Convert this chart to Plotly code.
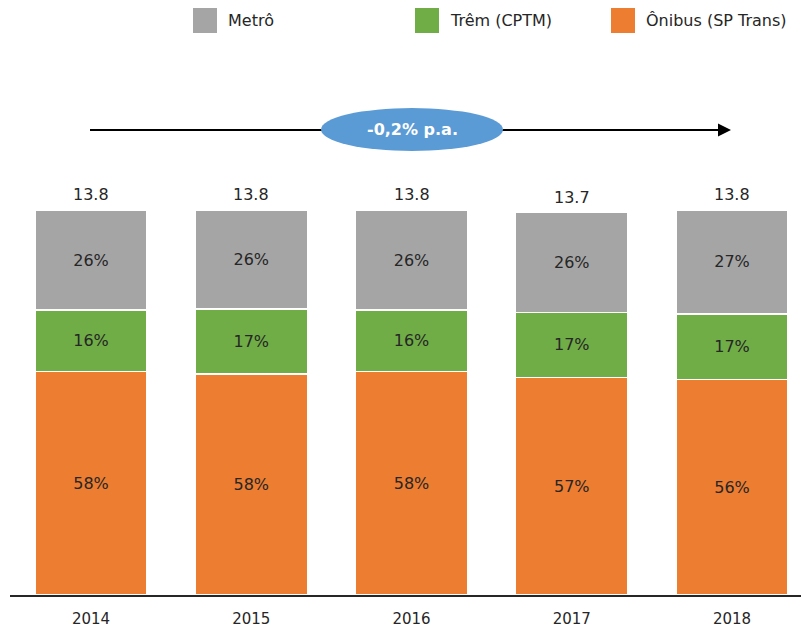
import plotly.graph_objects as go

years = ["2014", "2015", "2016", "2017", "2018"]
totals = [13.8, 13.8, 13.8, 13.7, 13.8]
onibus_pct = [58, 58, 58, 57, 56]
trem_pct = [16, 17, 16, 17, 17]
metro_pct = [26, 26, 26, 26, 27]
series_names = ["Metrô", "Trêm (CPTM)", "Ônibus (SP Trans)"]
growth_label = "-0,2% p.a."

colors = {"Metrô": "#A5A5A5", "Trêm (CPTM)": "#70AD47", "Ônibus (SP Trans)": "#ED7D31"}
FONT = "DejaVu Sans"
TXT = "#262626"

W, H = 801, 632
ML, MB = 10, 37
PW, PH = W - ML, H - MB


def px(x):
    return (x - ML) / PW


def py(y):
    return 1 - y / PH


sums = [a + b + c for a, b, c in zip(onibus_pct, trem_pct, metro_pct)]
stack = [
    ("Ônibus (SP Trans)", onibus_pct),
    ("Trêm (CPTM)", trem_pct),
    ("Metrô", metro_pct),
]

fig = go.Figure()
for name, pct in stack:
    vals = [t * p / s for t, p, s in zip(totals, pct, sums)]
    fig.add_trace(go.Bar(
        x=years, y=vals, name=name,
        marker=dict(color=colors[name], line=dict(color="white", width=1.2)),
        text=[f"{p}%" for p in pct], textposition="inside",
        insidetextanchor="middle", textangle=0,
        textfont=dict(family=FONT, size=16, color=TXT),
        width=0.7, showlegend=False, hoverinfo="skip",
    ))

annotations = []
for i, t in enumerate(totals):
    annotations.append(dict(x=i, y=t, xref="x", yref="y", text=f"{t:.1f}",
                            showarrow=False, xanchor="center", yanchor="bottom", yshift=4,
                            font=dict(family=FONT, size=16, color=TXT)))

shapes = []
# arrow line
shapes.append(dict(type="line", xref="paper", yref="paper",
                   x0=px(90), x1=px(722), y0=py(130), y1=py(130),
                   line=dict(color="black", width=2)))
# ellipse
shapes.append(dict(type="circle", xref="paper", yref="paper",
                   x0=px(321), x1=px(503), y0=py(151), y1=py(108),
                   fillcolor="#5B9BD5", line=dict(width=0)))
annotations.append(dict(x=px(731), y=py(130), xref="paper", yref="paper",
                        ax=-18, ay=0, text="", showarrow=True,
                        arrowhead=2, arrowsize=1.3, arrowwidth=2, arrowcolor="black"))
annotations.append(dict(x=px(412), y=py(129), xref="paper", yref="paper",
                        xanchor="center", yanchor="middle",
                        text=f"<b>{growth_label}</b>", showarrow=False,
                        font=dict(family=FONT, size=16, color="white")))

# legend (manual, large squares)
leg_sq = [193, 415, 611]
for name, x0 in zip(series_names, leg_sq):
    shapes.append(dict(type="rect", xref="paper", yref="paper",
                       x0=px(x0), x1=px(x0 + 24), y0=py(33), y1=py(8),
                       fillcolor=colors[name], line=dict(width=0)))
    annotations.append(dict(x=px(x0 + 33), y=py(21), xref="paper", yref="paper",
                            text=name, showarrow=False, xanchor="left", yanchor="middle",
                            font=dict(family=FONT, size=16, color=TXT)))

ymax = PH / 27.9
x0r = -(91 - ML) / 160.25
x1r = x0r + PW / 160.25

fig.update_layout(
    barmode="stack", bargap=0.3,
    width=W, height=H,
    margin=dict(l=ML, r=0, t=0, b=MB),
    paper_bgcolor="white", plot_bgcolor="white",
    font=dict(family=FONT, color=TXT),
    xaxis=dict(type="category", range=[x0r, x1r], showline=True,
               linecolor="#262626", linewidth=2, showgrid=False,
               ticks="", ticklabelstandoff=9,
               tickfont=dict(family=FONT, size=15, color=TXT)),
    yaxis=dict(range=[0, ymax], visible=False, showgrid=False),
    shapes=shapes, annotations=annotations,
)

fig.write_html("out.html", config={"displayModeBar": False},
               post_script="document.body.style.margin='0px';")
